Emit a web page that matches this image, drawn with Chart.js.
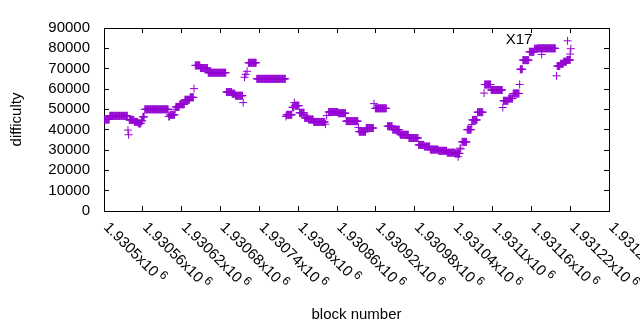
<!DOCTYPE html>
<html>
<head>
<meta charset="utf-8">
<script src="https://cdn.jsdelivr.net/npm/chart.js@4/dist/chart.umd.min.js"></script>
<style>
  html, body { margin: 0; padding: 0; background: #fff; }
  canvas { display: block; }
</style>
</head>
<body>
<canvas id="diffChart" width="640" height="330"></canvas>
<script>
// difficulty, one run = consecutive blocks at one level
var runFirst = [1930501, 1930509, 1930537, 1930538, 1930539, 1930547, 1930553, 1930558, 1930560, 1930563,
    1930600, 1930602, 1930610, 1930611, 1930617, 1930625, 1930633, 1930639, 1930641, 1930649,
    1930661, 1930689, 1930698, 1930703, 1930715, 1930717, 1930719, 1930721, 1930723, 1930736,
    1930781, 1930782, 1930791, 1930794, 1930795, 1930802, 1930810, 1930816, 1930824, 1930842,
    1930844, 1930847, 1930862, 1930874, 1930893, 1930894, 1930905, 1930917, 1930919, 1930938,
    1930946, 1930957, 1930958, 1930971, 1930986, 1930995, 1931004, 1931017, 1931030, 1931043,
    1931047, 1931050, 1931051, 1931053, 1931061, 1931068, 1931069, 1931077, 1931087, 1931088,
    1931098, 1931116, 1931117, 1931125, 1931132, 1931142, 1931143, 1931147, 1931157, 1931165,
    1931170, 1931176, 1931199, 1931200, 1931205, 1931210, 1931215, 1931216, 1931220, 1931221];
var runLast = [1930508, 1930536, 1930537, 1930538, 1930546, 1930552, 1930557, 1930559, 1930562, 1930599,
    1930601, 1930609, 1930610, 1930616, 1930624, 1930632, 1930638, 1930639, 1930648, 1930660,
    1930688, 1930697, 1930702, 1930714, 1930715, 1930717, 1930719, 1930721, 1930735, 1930780,
    1930781, 1930790, 1930793, 1930794, 1930801, 1930809, 1930815, 1930823, 1930841, 1930842,
    1930844, 1930861, 1930873, 1930892, 1930893, 1930904, 1930916, 1930917, 1930936, 1930945,
    1930956, 1930957, 1930970, 1930985, 1930994, 1931003, 1931016, 1931029, 1931042, 1931049,
    1931047, 1931050, 1931051, 1931060, 1931067, 1931068, 1931076, 1931085, 1931087, 1931097,
    1931115, 1931116, 1931124, 1931131, 1931141, 1931142, 1931146, 1931156, 1931164, 1931169,
    1931197, 1931176, 1931199, 1931204, 1931209, 1931214, 1931220, 1931216, 1931220, 1931221];
var runDifficulty = [45000, 46800, 39800, 37500, 44800, 43800, 43100, 44300, 46300, 50000,
    46500, 47300, 50000, 51200, 52500, 54700, 55900, 60200, 71600, 70300,
    68000, 58500, 57700, 56700, 53300, 65800, 67200, 68700, 72900, 65000,
    46500, 47300, 51000, 53300, 51800, 48300, 45800, 45000, 43800, 42700,
    46900, 48700, 48100, 44200, 41100, 39000, 40800, 52800, 50500, 41700,
    40000, 38000, 37500, 35900, 32500, 31700, 30200, 29600, 28700, 28300,
    26700, 30900, 30500, 34000, 40000, 42500, 44800, 48600, 58000, 62200,
    59500, 50900, 54200, 55300, 57800, 62200, 69700, 74200, 78300, 79800,
    80000, 77000, 66500, 71300, 72400, 73400, 74300, 83700, 77200, 79800];

var xMin = 1930500;
var xMax = 1931280;
var xStep = 60;
var yMin = 0;
var yMax = 90000;
var yStep = 10000;

var noteText = "X17";
var noteBlock = 1931141;
var noteDifficulty = 84100;

var points = [];
for (var i = 0; i < runFirst.length; i++) {
    for (var b = runFirst[i]; b <= runLast[i]; b++) {
        points.push({ x: b, y: runDifficulty[i] });
    }
}

Chart.defaults.font.family = '"Liberation Sans", Arial, sans-serif';
Chart.defaults.font.size = 15;
Chart.defaults.color = "#000";

// gnuplot style labels: slanted down to the right, starting at the tick
var slantedTicks = {
    id: "slantedTicks",
    afterDraw: function (chart) {
        var ctx = chart.ctx;
        var xs = chart.scales.x;
        ctx.save();
        ctx.fillStyle = "#000";
        ctx.textAlign = "left";
        ctx.textBaseline = "middle";
        xs.ticks.forEach(function (t) {
            var px = xs.getPixelForValue(t.value);
            var mant = parseFloat((t.value / 1e6).toFixed(5)).toString() + "x10";
            ctx.save();
            ctx.translate(px + 2, xs.top + 14);
            ctx.rotate(Math.PI / 4);
            ctx.font = '15px "Liberation Sans", Arial, sans-serif';
            ctx.fillText(mant, 0, 0);
            var w = ctx.measureText(mant).width;
            ctx.font = '12px "Liberation Sans", Arial, sans-serif';
            ctx.fillText("6", w + 3, -5);
            ctx.restore();
        });

        var ys = chart.scales.y;
        ctx.font = '15px "Liberation Sans", Arial, sans-serif';
        ctx.textAlign = "center";
        ctx.fillText(noteText, xs.getPixelForValue(noteBlock), ys.getPixelForValue(noteDifficulty));
        ctx.restore();
    }
};

var ctx = document.getElementById("diffChart").getContext("2d");
var diffChart = new Chart(ctx, {
    type: "scatter",
    data: {
        datasets: [{
            data: points,
            pointStyle: "cross",
            pointRadius: 4,
            pointHoverRadius: 4,
            borderWidth: 1,
            borderColor: "#9400d3",
            backgroundColor: "#9400d3"
        }]
    },
    plugins: [slantedTicks],
    options: {
        responsive: false,
        animation: false,
        events: [],
        layout: { padding: { left: 0, right: 31, top: 19, bottom: 0 } },
        plugins: {
            legend: { display: false },
            tooltip: { enabled: false }
        },
        scales: {
            x: {
                type: "linear",
                position: "bottom",
                min: xMin,
                max: xMax,
                ticks: { stepSize: xStep, maxTicksLimit: 20, display: false },
                grid: { drawOnChartArea: false, tickLength: -5, color: "#000" },
                border: { color: "#000", width: 1 },
                title: { display: true, text: "block number", padding: { top: 0, bottom: 6 } },
                afterFit: function (s) { s.height = 119; }
            },
            xTop: {
                type: "linear",
                position: "top",
                min: xMin,
                max: xMax,
                ticks: { stepSize: xStep, maxTicksLimit: 20, display: false },
                grid: { drawOnChartArea: false, tickLength: -5, color: "#000" },
                border: { color: "#000", width: 1 },
                afterFit: function (s) { s.height = 0; }
            },
            y: {
                type: "linear",
                position: "left",
                min: yMin,
                max: yMax,
                ticks: {
                    stepSize: yStep,
                    padding: 19,
                    autoSkip: false,
                    callback: function (v) { return String(v); }
                },
                grid: { drawOnChartArea: false, tickLength: -5, color: "#000" },
                border: { color: "#000", width: 1 },
                title: { display: true, text: "difficulty", padding: { top: 8, bottom: 0 } },
                afterFit: function (s) { s.width = 104; }
            },
            yRight: {
                type: "linear",
                position: "right",
                min: yMin,
                max: yMax,
                ticks: { stepSize: yStep, display: false },
                grid: { drawOnChartArea: false, tickLength: -5, color: "#000" },
                border: { color: "#000", width: 1 },
                afterFit: function (s) { s.width = 0; }
            }
        }
    }
});
</script>
</body>
</html>
